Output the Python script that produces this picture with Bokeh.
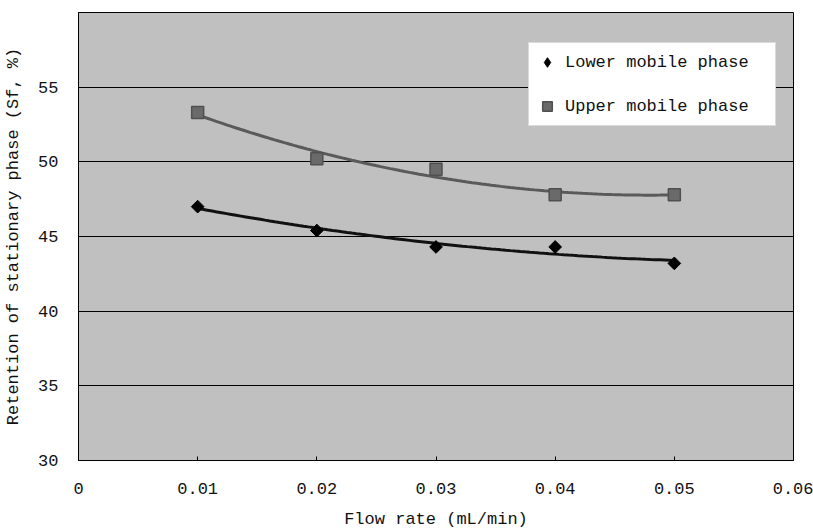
import numpy as np
from bokeh.plotting import figure
from bokeh.models import Range1d, FixedTicker, Legend, LegendItem, CustomJSTickFormatter
from bokeh.embed import file_html
from bokeh.resources import INLINE

flow_rate = [0.01, 0.02, 0.03, 0.04, 0.05]
lower_phase = [47.0, 45.4, 44.3, 44.3, 43.2]
upper_phase = [53.3, 50.2, 49.5, 47.8, 47.8]
x_ticks = [0, 0.01, 0.02, 0.03, 0.04, 0.05, 0.06]
y_ticks = [30, 35, 40, 45, 50, 55]

FONT = "Liberation Mono"
FS = "17px"

p = figure(width=813, height=531, output_backend="svg", toolbar_location=None,
           x_range=Range1d(0, 0.06), y_range=Range1d(30, 60),
           min_border_left=78, min_border_right=20, min_border_top=12, min_border_bottom=71)
p.background_fill_color = "#c0c0c0"
p.border_fill_color = "white"
p.outline_line_color = "black"
p.outline_line_width = 1

p.xgrid.grid_line_color = None
p.ygrid.grid_line_color = "black"
p.ygrid.grid_line_width = 1

p.xaxis.ticker = FixedTicker(ticks=x_ticks)
p.yaxis.ticker = FixedTicker(ticks=y_ticks)
p.xaxis.formatter = CustomJSTickFormatter(code="return tick === 0 ? '0' : tick.toFixed(2);")
for ax in (p.xaxis[0], p.yaxis[0]):
    ax.axis_line_color = "black"
    ax.major_label_text_font = FONT
    ax.major_label_text_font_size = FS
    ax.major_label_text_color = "#111111"
    ax.axis_label_text_font = FONT
    ax.axis_label_text_font_size = FS
    ax.axis_label_text_font_style = "normal"
    ax.axis_label_text_color = "#111111"
    ax.minor_tick_line_color = None
p.xaxis.major_tick_in = 4
p.xaxis.major_tick_out = 0
p.xaxis.major_label_standoff = 22
p.xaxis.axis_label_standoff = 13
p.yaxis.major_tick_line_color = None
p.yaxis.major_label_standoff = 14
p.yaxis.axis_label_standoff = 12
p.xaxis.axis_label = "Flow rate (mL/min)"
p.yaxis.axis_label = "Retention of stationary phase (Sf, %)"

# polynomial (order 2) trendlines fitted to the data
xs = np.linspace(flow_rate[0], flow_rate[-1], 100)
cu = np.polyfit(flow_rate, upper_phase, 2)
cl = np.polyfit(flow_rate, lower_phase, 2)
p.line(xs, np.polyval(cu, xs), line_color="#5a5a5a", line_width=3)
p.line(xs, np.polyval(cl, xs), line_color="#111111", line_width=3)

p.scatter(flow_rate, lower_phase, marker="square", size=9, angle=np.pi / 4,
          fill_color="black", line_color="black")
r_up = p.scatter(flow_rate, upper_phase, marker="square", size=12,
                 fill_color="#6a6a6a", line_color="#505050", line_width=1.5)
# legend proxy for the diamond series (not drawn on the plot)
r_low_leg = p.scatter(flow_rate, lower_phase, marker="diamond", size=13,
                      fill_color="black", line_color="black", visible=False)

legend = Legend(items=[LegendItem(label="Lower mobile phase", renderers=[r_low_leg]),
                       LegendItem(label="Upper mobile phase", renderers=[r_up])],
                location=(450, 334))
legend.label_text_font = FONT
legend.label_text_font_size = FS
legend.label_text_color = "#111111"
legend.background_fill_color = "white"
legend.background_fill_alpha = 1
legend.border_line_color = "#b8b8b8"
legend.padding = 6
legend.spacing = 18
legend.label_height = 26
legend.glyph_width = 24
legend.glyph_height = 26
legend.label_standoff = 6
legend.label_width = 204
legend.margin = 0
p.add_layout(legend)

open("out.html", "w").write(file_html(p, INLINE))
